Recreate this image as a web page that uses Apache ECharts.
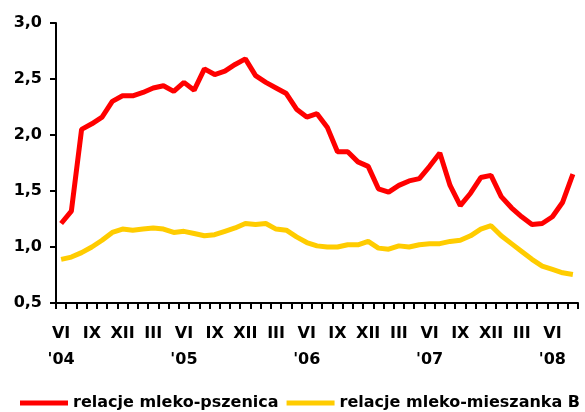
<!DOCTYPE html>
<html>
<head>
<meta charset="utf-8">
<script src="https://cdn.jsdelivr.net/npm/echarts@6/dist/echarts.min.js"></script>
<style>
  html, body { margin: 0; padding: 0; background: #fff; }
  #chart { width: 585px; height: 412px; }
</style>
</head>
<body>
<div id="chart"></div>
<script>
// monthly periods VI 2004 .. VIII 2008
const romanMonths = ["I", "II", "III", "IV", "V", "VI", "VII", "VIII", "IX", "X", "XI", "XII"];
const startYear = 2004;
const startMonth = 6;
const pointCount = 51;

const milkWheat = [
  1.21, 1.32, 2.05, 2.10, 2.16, 2.30, 2.35, 2.35, 2.38, 2.42, 2.44, 2.39,
  2.47, 2.40, 2.59, 2.54, 2.57, 2.63, 2.68, 2.53, 2.47, 2.42, 2.37, 2.23,
  2.16, 2.19, 2.07, 1.85, 1.85, 1.76, 1.72, 1.52, 1.49, 1.55, 1.59, 1.61,
  1.72, 1.84, 1.55, 1.37, 1.48, 1.62, 1.64, 1.45, 1.35, 1.27, 1.20, 1.21,
  1.27, 1.40, 1.65
];

const milkFeed = [
  0.89, 0.91, 0.95, 1.00, 1.06, 1.13, 1.16, 1.15, 1.16, 1.17, 1.16, 1.13,
  1.14, 1.12, 1.10, 1.11, 1.14, 1.17, 1.21, 1.20, 1.21, 1.16, 1.15, 1.09,
  1.04, 1.01, 1.00, 1.00, 1.02, 1.02, 1.05, 0.99, 0.98, 1.01, 1.00, 1.02,
  1.03, 1.03, 1.05, 1.06, 1.10, 1.16, 1.19, 1.10, 1.03, 0.96, 0.89, 0.83,
  0.80, 0.77, 0.755
];

const categories = [];
for (let i = 0; i < pointCount; i++) {
  const m = (startMonth - 1 + i) % 12;
  const y = startYear + Math.floor((startMonth - 1 + i) / 12);
  categories.push(romanMonths[m] + "|" + String(y).slice(2));
}

const chart = echarts.init(document.getElementById("chart"));
const fontFamily = "DejaVu Sans";

const option = {
  animation: false,
  grid: { left: 56, right: 7, top: 23, bottom: 109, containLabel: false },
  legend: {
    left: 20,
    top: 395,
    width: 600,
    padding: 0,
    icon: "rect",
    itemWidth: 48,
    itemHeight: 5,
    itemGap: 8,
    textStyle: { fontFamily: fontFamily, fontWeight: "bold", fontSize: 16, color: "#000" },
    data: ["relacje mleko-pszenica", "relacje mleko-mieszanka B"]
  },
  xAxis: {
    type: "category",
    data: categories,
    boundaryGap: true,
    axisLine: { lineStyle: { color: "#000", width: 2 } },
    axisTick: { show: true, interval: 0, length: 6, lineStyle: { color: "#000", width: 2 } },
    axisLabel: {
      interval: 2,
      margin: 18,
      lineHeight: 26,
      fontFamily: fontFamily,
      fontWeight: "bold",
      fontSize: 16,
      color: "#000",
      formatter: function (value) {
        const parts = value.split("|");
        return parts[0] === "VI" ? parts[0] + "\n'" + parts[1] : parts[0];
      }
    },
    splitLine: { show: false }
  },
  yAxis: {
    type: "value",
    min: 0.5,
    max: 3.0,
    interval: 0.5,
    axisLine: { show: true, lineStyle: { color: "#000", width: 2 } },
    axisTick: { show: true, length: 6, lineStyle: { color: "#000", width: 2 } },
    axisLabel: {
      margin: 14,
      fontFamily: fontFamily,
      fontWeight: "bold",
      fontSize: 16,
      color: "#000",
      formatter: function (v) {
        return v.toFixed(1).replace(".", ",");
      }
    },
    splitLine: { show: false }
  },
  series: [
    {
      name: "relacje mleko-pszenica",
      type: "line",
      data: milkWheat,
      symbol: "none",
      color: "#ff0000",
      lineStyle: { width: 5, color: "#ff0000" }
    },
    {
      name: "relacje mleko-mieszanka B",
      type: "line",
      data: milkFeed,
      symbol: "none",
      color: "#ffcc00",
      lineStyle: { width: 5, color: "#ffcc00" }
    }
  ]
};

chart.setOption(option);
</script>
</body>
</html>
